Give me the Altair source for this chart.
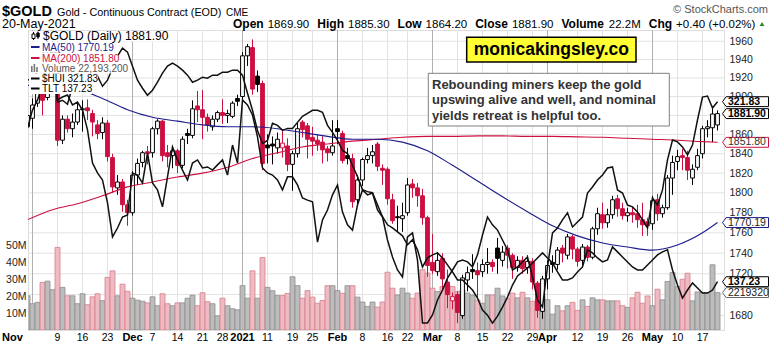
import altair as alt
import pandas as pd
import numpy as np

# ---------------- data (trading-day index -1 = 30-Oct-2020 ... 137 = 20-May-2021) ----------------
opens = [1868, 1877, 1893, 1910, 1899, 1946, 1951, 1854, 1876, 1866,
         1873, 1886, 1888, 1882, 1870, 1862, 1872, 1836, 1805, 1811,
         1788, 1780, 1818, 1831, 1842, 1841, 1866, 1874, 1841, 1838,
         1843, 1828, 1861, 1859, 1890, 1886, 1878, 1868, 1876, 1883,
         1880, 1879, 1898, 1900, 1944, 1953, 1922, 1914, 1849, 1850,
         1846, 1846, 1848, 1829, 1840, 1873, 1869, 1857, 1854, 1852,
         1845, 1841, 1866, 1861, 1838, 1835, 1793, 1813, 1834, 1838,
         1850, 1825, 1824, 1793, 1776, 1774, 1780, 1809, 1805, 1797,
         1775, 1731, 1722, 1735, 1712, 1694, 1700, 1680, 1714, 1724,
         1723, 1722, 1729, 1731, 1745, 1733, 1745, 1738, 1726, 1733,
         1726, 1732, 1711, 1684, 1715, 1731, 1729, 1745, 1738, 1756,
         1744, 1733, 1746, 1736, 1764, 1778, 1770, 1778, 1794, 1784,
         1777, 1780, 1779, 1773, 1771, 1769, 1793, 1779, 1785, 1815,
         1832, 1838, 1836, 1815, 1826, 1840, 1866, 1867, 1869.9]
highs = [1882, 1898, 1914, 1924, 1953, 1960, 1966, 1880, 1880, 1882,
         1893, 1896, 1897, 1886, 1875, 1878, 1875, 1840, 1818, 1814,
         1793, 1822, 1835, 1843, 1848, 1868, 1876, 1875, 1849, 1848,
         1845, 1858, 1866, 1896, 1906, 1907, 1882, 1880, 1885, 1897,
         1886, 1895, 1902, 1948, 1957, 1962, 1928, 1917, 1860, 1858,
         1862, 1865, 1856, 1843, 1872, 1875, 1872, 1868, 1860, 1858,
         1848, 1875, 1875, 1864, 1846, 1840, 1818, 1836, 1846, 1849,
         1852, 1829, 1826, 1799, 1787, 1790, 1815, 1814, 1810, 1804,
         1777, 1759, 1741, 1740, 1724, 1702, 1703, 1719, 1727, 1739,
         1731, 1734, 1745, 1734, 1755, 1747, 1748, 1740, 1737, 1737,
         1738, 1735, 1713, 1718, 1733, 1738, 1746, 1748, 1759, 1758,
         1746, 1749, 1748, 1766, 1785, 1790, 1784, 1797, 1798, 1790,
         1785, 1786, 1788, 1790, 1775, 1797, 1799, 1788, 1818, 1838,
         1844, 1845, 1843, 1829, 1845, 1869, 1875, 1890, 1885.3]
lows = [1860, 1866, 1889, 1880, 1896, 1935, 1848, 1850, 1862, 1857,
        1870, 1863, 1875, 1858, 1855, 1855, 1832, 1800, 1798, 1781,
        1767, 1777, 1808, 1826, 1829, 1836, 1860, 1832, 1826, 1825,
        1820, 1825, 1850, 1856, 1873, 1855, 1863, 1864, 1873, 1871,
        1872, 1877, 1890, 1897, 1933, 1902, 1905, 1823, 1830, 1829,
        1840, 1836, 1822, 1802, 1836, 1857, 1835, 1838, 1843, 1830,
        1832, 1838, 1850, 1830, 1829, 1785, 1788, 1807, 1830, 1830,
        1822, 1808, 1788, 1769, 1761, 1761, 1777, 1795, 1786, 1768,
        1717, 1720, 1718, 1705, 1687, 1686, 1673, 1677, 1703, 1715,
        1696, 1717, 1720, 1722, 1720, 1727, 1725, 1715, 1722, 1720,
        1720, 1705, 1678, 1677, 1705, 1721, 1724, 1731, 1734, 1734,
        1727, 1726, 1732, 1734, 1758, 1764, 1765, 1774, 1776, 1773,
        1771, 1770, 1765, 1757, 1757, 1763, 1772, 1775, 1783, 1798,
        1823, 1823, 1813, 1808, 1823, 1835, 1857, 1852, 1864.2]
closes = [1879.9, 1891, 1910, 1896, 1946, 1951, 1854, 1876, 1866, 1873,
          1886, 1887, 1885, 1873, 1861, 1872, 1837, 1806, 1811, 1788,
          1780, 1818, 1830, 1841, 1840, 1866, 1874, 1838, 1837, 1843,
          1828, 1855, 1859, 1887, 1886, 1878, 1870, 1876, 1883, 1880,
          1882, 1893, 1895, 1944, 1954, 1908, 1913, 1830, 1846, 1848,
          1855, 1851, 1829, 1840, 1866, 1865, 1855, 1853, 1850, 1844,
          1841, 1848, 1863, 1833, 1835, 1791, 1813, 1834, 1838, 1842,
          1827, 1823, 1794, 1772, 1775, 1777, 1808, 1805, 1797, 1775,
          1728, 1723, 1733, 1715, 1700, 1698, 1683, 1716, 1721, 1722,
          1719, 1729, 1731, 1727, 1735, 1741, 1738, 1726, 1733, 1725,
          1732, 1712, 1685, 1715, 1728, 1729, 1743, 1740, 1756, 1744,
          1732, 1746, 1736, 1764, 1779, 1770, 1778, 1793, 1784, 1777,
          1780, 1778, 1773, 1768, 1767, 1792, 1779, 1785, 1815, 1831,
          1837, 1836, 1823, 1824, 1838, 1866, 1868, 1881.5, 1881.9]
volumes_m = [20.3, 15.6, 16.4, 28.2, 29.0, 23.9, 49.0, 25.3, 20.3, 20.3,
             15.6, 21.5, 15.0, 19.7, 21.5, 17.4, 31.2, 35.1, 20.3, 27.2,
             23.0, 18.9, 17.7, 17.1, 16.1, 19.7, 14.4, 21.5, 15.6, 14.4,
             16.1, 16.1, 18.9, 20.7, 14.4, 22.1, 16.8, 15.6, 8.4, 18.9,
             14.4, 12.6, 12.0, 26.3, 18.9, 35.1, 18.9, 43.0, 25.3, 23.3,
             20.4, 20.4, 21.7, 31.6, 26.3, 18.9, 23.4, 19.5, 15.9, 17.5,
             26.3, 26.3, 23.4, 21.8, 26.3, 26.3, 19.5, 16.6, 14.0, 16.6,
             13.6, 16.6, 34.3, 24.8, 20.8, 24.8, 21.9, 18.9, 21.9, 35.8,
             33.8, 24.8, 22.8, 25.8, 26.8, 25.8, 22.8, 23.8, 21.9, 20.8,
             17.8, 15.9, 20.8, 20.8, 24.8, 20.2, 18.8, 21.9, 19.1, 22.4,
             19.1, 17.0, 18.0, 21.9, 18.0, 9.4, 14.4, 11.4, 14.4, 16.4,
             11.6, 17.9, 14.0, 19.1, 17.9, 17.9, 17.3, 17.3, 17.3, 14.4,
             13.4, 19.1, 22.4, 15.9, 20.2, 14.4, 24.2, 17.9, 28.8, 34.1,
             25.8, 30.1, 33.7, 17.3, 22.6, 22.2, 22.2, 38.7, 22.1932]
hui_vals = [311.7, 318.6, 322.5, 328.2, 339.7, 340.9, 322.5, 323.6, 324.4, 320.6,
            321.7, 318.6, 311.0, 298.3, 294.5, 291.8, 283.0, 270.0, 273.4, 277.6,
            278.4, 294.5, 293.7, 290.7, 302.2, 290.7, 288.0, 281.5, 293.0, 304.5,
            299.5, 295.6, 291.8, 298.3, 299.5, 296.4, 296.8, 295.6, 297.6, 299.5,
            293.7, 305.2, 298.3, 322.5, 320.6, 316.7, 308.3, 296.4, 294.5, 293.7,
            291.8, 288.0, 293.0, 293.0, 289.9, 284.9, 284.1, 283.4, 268.0, 276.5,
            280.3, 286.1, 289.9, 279.5, 274.6, 272.6, 282.2, 288.0, 286.1, 286.8,
            280.3, 277.6, 268.8, 262.3, 257.3, 254.6, 270.0, 271.5, 261.1, 237.0,
            237.0, 240.1, 245.8, 249.6, 254.2, 257.3, 260.4, 261.1, 260.4, 258.5,
            263.1, 270.7, 277.6, 274.6, 272.6, 268.8, 265.0, 257.3, 258.5, 260.4,
            262.3, 254.6, 245.8, 243.1, 258.5, 271.5, 273.4, 276.5, 279.2, 273.8,
            275.7, 277.6, 286.8, 289.1, 291.8, 293.7, 296.4, 296.8, 288.0, 286.8,
            282.2, 281.5, 279.5, 276.5, 273.4, 284.9, 282.2, 288.0, 299.5, 307.1,
            306.4, 304.5, 301.4, 305.2, 314.8, 323.6, 324.0, 319.4, 321.83]
tlt_vals = [157.3, 157.5, 158.1, 159.8, 161.1, 159.5, 155.1, 155.3, 154.9, 156.7,
            158.1, 157.3, 157.5, 157.3, 157.7, 156.7, 157.3, 158.5, 159.7, 160.5,
            160.1, 158.7, 157.3, 156.5, 155.8, 156.3, 157.1, 158.0, 158.7, 159.0,
            158.7, 158.3, 157.8, 157.1, 157.3, 157.6, 157.5, 157.8, 157.8, 158.1,
            158.1, 158.3, 158.3, 157.8, 156.0, 154.3, 152.3, 151.0, 151.3, 153.0,
            152.8, 152.3, 152.5, 152.5, 153.1, 153.7, 154.0, 154.3, 154.3, 154.1,
            152.8, 152.1, 151.3, 150.3, 150.0, 148.8, 147.7, 146.4, 146.2, 146.1,
            144.9, 143.7, 142.9, 142.6, 142.2, 141.8, 140.9, 141.4, 140.4, 138.7,
            139.6, 139.9, 140.1, 139.6, 138.9, 138.2, 137.4, 137.4, 136.9, 136.4,
            135.6, 134.4, 133.9, 133.1, 133.8, 134.7, 135.7, 136.9, 137.8, 138.2,
            138.6, 139.1, 139.6, 140.1, 139.6, 139.1, 138.2, 137.4, 137.4, 137.6,
            138.2, 138.7, 140.4, 140.1, 139.6, 139.2, 139.4, 140.7, 140.2, 139.7,
            139.2, 138.7, 138.4, 138.4, 138.9, 139.4, 139.9, 140.2, 140.4, 138.4,
            136.9, 135.6, 136.4, 137.1, 136.6, 136.1, 136.1, 136.4, 137.23]
ma50_idx = [-1, 4, 9, 14, 19, 24, 29, 34, 39, 44, 49, 54, 59, 64, 69, 74, 79, 84, 89,
            94, 99, 104, 109, 114, 119, 124, 129, 134, 137]
ma50_vals = [1912, 1911, 1908, 1898, 1886, 1878, 1874, 1870, 1868, 1868, 1866, 1862, 1858,
             1855, 1855, 1852, 1843, 1828, 1812, 1796, 1781, 1767, 1757, 1750, 1746, 1743,
             1748, 1760, 1770.19]
ma200_idx = [-1, 4, 9, 14, 19, 24, 29, 34, 39, 44, 49, 54, 59, 64, 69, 74, 79, 84, 89,
             94, 99, 104, 109, 114, 119, 124, 129, 134, 137]
ma200_vals = [1773, 1783, 1789, 1797, 1806, 1811, 1816, 1820, 1826, 1835, 1841, 1847, 1850,
              1853, 1855, 1857, 1858, 1858, 1858.5, 1858.5, 1858, 1858, 1857.5, 1857, 1856,
              1855, 1854, 1852.5, 1851.8]
tick_idx = [0, 5, 10, 15, 20, 24, 29, 34, 38, 42, 47, 52, 56, 61, 66, 71, 75, 80, 85, 90,
            95, 100, 103, 109, 114, 119, 124, 129, 134]
tick_labels = ["Nov", "9", "16", "23", "Dec", "7", "14", "21", "28", "2021", "11", "19", "25",
               "Feb", "8", "16", "22", "Mar", "8", "15", "22", "29", "Apr", "12", "19", "26",
               "May", "10", "17"]
tick_major = [lab.isalpha() or lab == "2021" for lab in tick_labels]
price_ticks = [1680, 1700, 1720, 1740, 1760, 1780, 1800, 1820, 1840, 1860, 1880, 1900,
               1920, 1940, 1960]
price_labels_covered = [1700, 1880]   # hidden under the value tags in the original
vol_ticks = [10, 20, 30, 40, 50]

# ---------------- layout constants ----------------
OX, OY = 28, 30
W, H = 696, 300
FONT = "Liberation Sans"
RED = "#cc1040"
NAVY = "#1c1c8c"

XS = alt.Scale(domain=[-0.9, 138.3], nice=False, zero=False)
PS = alt.Scale(type="log", domain=[1666.5, 1972.4], nice=False)
VS = alt.Scale(domain=[0, 178], nice=False, zero=False)
HS = alt.Scale(domain=[234.3, 349.3], nice=False, zero=False)
TS = alt.Scale(domain=[132.42, 162.30], nice=False, zero=False)

n = len(closes)
df = pd.DataFrame({"idx": list(range(-1, n - 1)), "open": opens, "high": highs,
                   "low": lows, "close": closes, "vol": volumes_m,
                   "hui": hui_vals, "tlt": tlt_vals})
prev = df["close"].shift(1).fillna(df["open"])
up = df["close"] >= prev
df["stroke"] = np.where(up, "#000000", RED)
df["fill"] = np.where(df["close"] > df["open"], "#ffffff", df["stroke"])
df["vfill"] = np.where(up, "#bcbcbc", "#eebbc3")
df["vstroke"] = np.where(up, "#8e8e8e", "#d77f8c")
df["b0"] = df["idx"] - 0.38
df["b1"] = df["idx"] + 0.38
df["v0"] = df["idx"] - 0.5
df["v1"] = df["idx"] + 0.5

ticks_df = pd.DataFrame({"idx": tick_idx, "label": tick_labels, "major": tick_major})
ticks_df["gc"] = np.where(ticks_df["major"], "#b0b0b0", "#e2e2e2")
ticks_df["first"] = ticks_df.index == 0
ma50_df = pd.DataFrame({"idx": ma50_idx, "v": ma50_vals})
ma200_df = pd.DataFrame({"idx": ma200_idx, "v": ma200_vals})
pgrid_df = pd.DataFrame({"v": price_ticks})

ONE = alt.Data(values=[{"k": 1}])


def label(txt, x, y, size=11, weight="normal", color="#000000", align="left",
          baseline="alphabetic"):
    return alt.Chart(ONE).mark_text(text=txt, font=FONT, fontSize=size, fontWeight=weight,
                                    color=color, align=align, baseline=baseline).encode(
        x=alt.value(x - OX), y=alt.value(y - OY))


def box(x0, y0, x1, y1, fill="#ffffff", stroke="", sw=1.0):
    kw = dict(fill=fill, strokeWidth=sw)
    if stroke:
        kw["stroke"] = stroke
    else:
        kw["strokeWidth"] = 0
    return alt.Chart(ONE).mark_rect(**kw).encode(
        x=alt.value(x0 - OX), x2=alt.value(x1 - OX), y=alt.value(y0 - OY), y2=alt.value(y1 - OY))


def hseg(x0, x1, y, color, sw):
    return alt.Chart(ONE).mark_rule(color=color, strokeWidth=sw).encode(
        x=alt.value(x0 - OX), x2=alt.value(x1 - OX), y=alt.value(y - OY))


def vseg(x, y0, y1, color, sw):
    return alt.Chart(ONE).mark_rule(color=color, strokeWidth=sw).encode(
        x=alt.value(x - OX), y=alt.value(y0 - OY), y2=alt.value(y1 - OY))


layers = []

# horizontal price grid
layers.append(alt.Chart(pgrid_df).mark_rule(strokeWidth=1, color="#e2e2e2").encode(
    y=alt.Y("v:Q", scale=PS, axis=None), x=alt.value(0), x2=alt.value(W)))

# vertical grid
layers.append(alt.Chart(ticks_df).mark_rule(strokeWidth=1).encode(
    x=alt.X("idx:Q", scale=XS, axis=None), y=alt.value(0), y2=alt.value(H),
    color=alt.Color("gc:N", scale=None)))

# volume
layers.append(alt.Chart(df).mark_rect(strokeWidth=0.8, clip=True).encode(
    x=alt.X("v0:Q", scale=XS, axis=None), x2="v1:Q",
    y=alt.Y("vol:Q", scale=VS, axis=alt.Axis(orient="left", values=vol_ticks,
                                              labelExpr="datum.value + 'M'", grid=False,
                                              domain=False, ticks=False, labelPadding=2,
                                              labelFontSize=10.5, labelFont=FONT,
                                              labelColor="#222222", title=None)),
    y2=alt.datum(0),
    fill=alt.Fill("vfill:N", scale=None), stroke=alt.Stroke("vstroke:N", scale=None)))

# candles
label_vals = [v for v in price_ticks if v not in price_labels_covered]
layers.append(alt.Chart(df).mark_rule(strokeWidth=1, clip=True).encode(
    x=alt.X("idx:Q", scale=XS, axis=None),
    y=alt.Y("low:Q", scale=PS, axis=alt.Axis(orient="right", values=label_vals, format="d",
                                             grid=False, domain=False, ticks=False,
                                             labelPadding=5, labelFontSize=10.5,
                                             labelFont=FONT, labelColor="#222222",
                                             labelBound=False, labelFlush=False,
                                             labelOverlap=False, title=None)),
    y2="high:Q", color=alt.Color("stroke:N", scale=None)))
layers.append(alt.Chart(df).mark_rect(strokeWidth=1, clip=True).encode(
    x=alt.X("b0:Q", scale=XS, axis=None), x2="b1:Q",
    y=alt.Y("open:Q", scale=PS, axis=None), y2="close:Q",
    fill=alt.Fill("fill:N", scale=None), stroke=alt.Stroke("stroke:N", scale=None)))

# moving averages
layers.append(alt.Chart(ma200_df).mark_line(color=RED, strokeWidth=1.1, interpolate="monotone",
                                            clip=True).encode(
    x=alt.X("idx:Q", scale=XS, axis=None), y=alt.Y("v:Q", scale=PS, axis=None)))
layers.append(alt.Chart(ma50_df).mark_line(color=NAVY, strokeWidth=1.1, interpolate="monotone",
                                           clip=True).encode(
    x=alt.X("idx:Q", scale=XS, axis=None), y=alt.Y("v:Q", scale=PS, axis=None)))

# HUI and TLT overlays
layers.append(alt.Chart(df).mark_line(color="#111111", strokeWidth=1.5, clip=True).encode(
    x=alt.X("idx:Q", scale=XS, axis=None), y=alt.Y("hui:Q", scale=HS, axis=None)))
layers.append(alt.Chart(df).mark_line(color="#111111", strokeWidth=1.5, clip=True).encode(
    x=alt.X("idx:Q", scale=XS, axis=None), y=alt.Y("tlt:Q", scale=TS, axis=None)))

# legend (top-left)
last_c = closes[-1]
vol_full = int(round(volumes_m[-1] * 1e6))
rows = [
    (f"$GOLD (Daily) {last_c:.2f}", 31, 41.5, 176, 12, "#000000", 40.3),
    (f"MA(50) {ma50_vals[-1]:.2f}", 41.5, 52.5, 112, 10, NAVY, 50.8),
    (f"MA(200) {ma200_vals[-1]:.2f}", 52.5, 63, 118, 10, RED, 61.5),
    (f"Volume {vol_full:,}", 63, 73.5, 125, 10, "#555555", 71.8),
    (f"$HUI {hui_vals[-1]:.2f}", 73.5, 84, 98, 10, "#000000", 82),
    (f"TLT {tlt_vals[-1]:.2f}", 84, 94, 92, 10, "#000000", 92),
]
for txt, y0, y1, xr, size, col, base in rows:
    layers.append(box(29, y0, xr, y1))
for i, (txt, y0, y1, xr, size, col, base) in enumerate(rows):
    layers.append(label(txt, 42 if i else 43, base, size=size, color=col))
# legend icons
layers.append(vseg(33.5, 32, 40, "#000000", 1))
layers.append(box(32, 34, 35, 38.5, fill="#ffffff", stroke="#000000", sw=1))
layers.append(vseg(38, 31.5, 39, "#000000", 1))
layers.append(box(36.8, 33, 39.2, 37, fill="#000000", stroke="#000000", sw=1))
layers.append(hseg(31, 39.5, 47, NAVY, 2))
layers.append(hseg(31, 39.5, 58, RED, 2))
layers.append(box(31, 66, 32.6, 72, fill="#777777"))
layers.append(box(33.6, 64, 35.2, 72, fill="#777777"))
layers.append(box(36.2, 67, 37.8, 72, fill="#777777"))
layers.append(hseg(31, 39.5, 78.5, "#000000", 2))
layers.append(hseg(31, 39.5, 88.5, "#000000", 2))

# annotation boxes
layers.append(box(466.7, 37.3, 636, 62, fill="#ffff33", stroke="#000000", sw=1.5))
layers.append(label("monicakingsley.co", 551.3, 50, size=17.5, weight="bold",
                    align="center", baseline="middle"))
layers.append(box(428.3, 73.3, 669.3, 126, fill="#ffffff", stroke="#808080", sw=1))
for t, yy in [("Rebounding miners keep the gold", 84.5),
              ("upswing alive and well, and nominal", 100),
              ("yields retreat is helpful too.", 115.5)]:
    layers.append(label(t, 432, yy, size=13, weight="bold", color="#333333", baseline="middle"))

# x-axis labels
for major in (True, False):
    for first in (True, False):
        sub = ticks_df[(ticks_df["major"] == major) & (ticks_df["first"] == first)]
        if len(sub) == 0:
            continue
        layers.append(alt.Chart(sub).mark_text(font=FONT, fontSize=11 if major else 10.5,
                                               fontWeight="bold" if major else "normal",
                                               color="#000000", baseline="middle",
                                               dx=-20 if first else 0).encode(
            x=alt.X("idx:Q", scale=XS, axis=None), y=alt.value(337.5 - OY), text="label:N"))

# right-side value tags
TAG = "M -1 0 L -0.84 -0.215 L 1 -0.215 L 1 0.215 L -0.84 0.215 Z"


def tag(value, scale, text, stroke, tcolor, bold):
    d = pd.DataFrame({"v": [value], "t": [text]})
    shp = alt.Chart(d).mark_point(shape=TAG, size=46 * 46, filled=True, fill="#ffffff",
                                  stroke=stroke, strokeWidth=1, opacity=1).encode(
        x=alt.value(745.5 - OX), y=alt.Y("v:Q", scale=scale, axis=None))
    txt = alt.Chart(d).mark_text(font=FONT, fontSize=10.5, fontWeight="bold" if bold else "normal",
                                 color=tcolor, align="left", baseline="middle").encode(
        x=alt.value(728 - OX), y=alt.Y("v:Q", scale=scale, axis=None), text="t:N")
    return [shp, txt]


layers += tag(hui_vals[-1], HS, f"{hui_vals[-1]:.2f}", "#000000", "#000000", True)
layers += tag(last_c, PS, f"{last_c:.2f}", "#000000", "#000000", True)
layers += tag(ma200_vals[-1], PS, f"{ma200_vals[-1]:.2f}", RED, "#333333", False)
layers += tag(ma50_vals[-1], PS, f"{ma50_vals[-1]:.2f}", NAVY, "#222222", False)
layers += tag(tlt_vals[-1], TS, f"{tlt_vals[-1]:.2f}", "#000000", "#000000", True)
layers += tag(volumes_m[-1], VS, str(vol_full)[:7], "#666666", "#222222", False)

# header
chg = closes[-1] - closes[-2]
pct = chg / closes[-2] * 100
layers.append(label("$GOLD", 2, 16, size=14.5, weight="bold"))
layers.append(label("Gold - Continuous Contract (EOD)", 57, 15.5, size=10.8))
layers.append(label("CME", 226, 15.5, size=10))
layers.append(label("© StockCharts.com", 768, 13, size=11, color="#555555", align="right"))
layers.append(label("20-May-2021", 2, 28, size=12.5))
pieces = [("Open", 233, True), (f"{opens[-1]:.2f}", 267.7, False),
          ("High", 317.3, True), (f"{highs[-1]:.2f}", 348, False),
          ("Low", 397.6, True), (f"{lows[-1]:.2f}", 425.6, False),
          ("Close", 475.2, True), (f"{closes[-1]:.2f}", 511.9, False),
          ("Volume", 561.5, True), (f"{volumes_m[-1]:.1f}M", 608.8, False),
          ("Chg", 648.8, True), (f"{chg:+.2f} ({pct:+.2f}%)", 676.1, False)]
for t, x, b in pieces:
    layers.append(label(t, x, 28, size=12 if b else 11.5, weight="bold" if b else "normal"))
layers.append(alt.Chart(ONE).mark_point(shape="triangle-up", size=24, filled=True,
                                        color="#2e8b2e", opacity=1).encode(
    x=alt.value(762 - OX), y=alt.value(24 - OY)))

chart = alt.layer(*layers).resolve_scale(y="independent").properties(
    width=W, height=H,
    padding={"left": OX, "top": OY, "right": 773 - OX - W, "bottom": 345 - OY - H},
    autosize=alt.AutoSizeParams(type="none"),
).configure_view(stroke="#8c8c8c", strokeWidth=1).configure(background="#ffffff")

chart.save("out.html", embed_options={"renderer": "svg", "actions": False})
